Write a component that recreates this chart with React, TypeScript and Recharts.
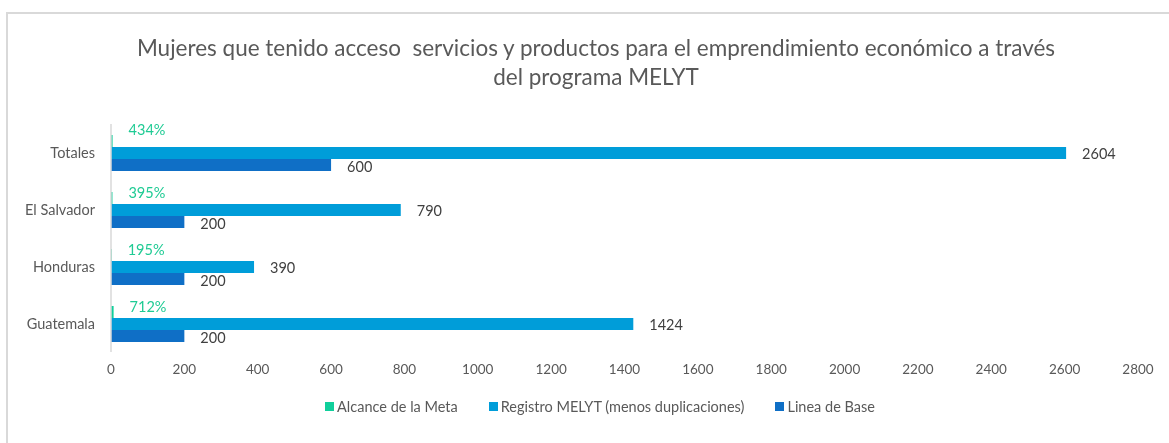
import React from 'react'
import { BarChart, Bar, XAxis, YAxis, Legend } from 'recharts'

const titleLines = [
    'Mujeres que tenido acceso  servicios y productos para el emprendimiento económico a través',
    'del programa MELYT',
]

const paises = ['Totales', 'El Salvador', 'Honduras', 'Guatemala']
const alcanceMeta = [4.34, 3.95, 1.95, 7.12]
const registroMelyt = [2604, 790, 390, 1424]
const lineaBase = [600, 200, 200, 200]
const xTicks = [0, 200, 400, 600, 800, 1000, 1200, 1400, 1600, 1800, 2000, 2200, 2400, 2600, 2800]

const series = [
    { key: 'alcance', name: 'Alcance de la Meta', color: '#10CF9B' },
    { key: 'registro', name: 'Registro MELYT (menos duplicaciones)', color: '#009DD9' },
    { key: 'base', name: 'Linea de Base', color: '#0F6FC6' },
]

const chartData = paises.map((name, i) => ({
    name,
    alcance: alcanceMeta[i],
    registro: registroMelyt[i],
    base: lineaBase[i],
}))

const FONT = 'Lato, "Open Sans", sans-serif'

// label to the right of the bar end, Excel-ish offsets
function makeLabel(color: string, fmt: (v: number) => string, dyFor: (i: number) => number) {
    return (props: any) => {
        const { x, y, width, height, value, index } = props
        return (
            <text
                x={x + width + 16}
                y={y + height / 2 + dyFor(index)}
                fill={color}
                fontSize={14.5}
                fontFamily={FONT}
                textAnchor="start"
                dominantBaseline="central"
            >
                {fmt(value)}
            </text>
        )
    }
}

function LegendContent() {
    return (
        <div style={{ display: 'flex', justifyContent: 'center', gap: 31, fontFamily: FONT, fontSize: 14.5, color: '#595959' }}>
            {series.map(s => (
                <div key={s.key} style={{ display: 'flex', alignItems: 'center', gap: 3 }}>
                    <span style={{ width: 9, height: 9, background: s.color, display: 'inline-block' }} />
                    <span>{s.name}</span>
                </div>
            ))}
        </div>
    )
}

export default function App() {
    return (
        <div style={{ fontFamily: FONT }}>
            <div style={{ position: 'fixed', left: 6, top: 12, width: 2000, height: 1000, borderTop: '2px solid #D9D9D9', borderLeft: '2px solid #D9D9D9' }} />
            <div style={{ position: 'fixed', left: 0, top: 0, width: 1169, height: 443 }}>
                <div style={{ position: 'absolute', top: 33, left: 0, width: 1192, textAlign: 'center', fontSize: 22.5, lineHeight: '29px', color: '#595959', whiteSpace: 'pre' }}>
                    {titleLines[0]}
                    <br />
                    {titleLines[1]}
                </div>
                <BarChart
                    width={1169}
                    height={443}
                    data={chartData}
                    layout="vertical"
                    margin={{ top: 124, right: 31, bottom: 61, left: 0 }}
                    barSize={12}
                    barGap={0}
                >
                    <XAxis
                        type="number"
                        domain={[0, 2800]}
                        ticks={xTicks}
                        interval={0}
                        axisLine={false}
                        tickLine={false}
                        tickSize={0}
                        tickMargin={12}
                        height={30}
                        tick={{ fontSize: 13.5, fill: '#595959', fontFamily: FONT }}
                    />
                    <YAxis
                        type="category"
                        dataKey="name"
                        width={111}
                        axisLine={{ stroke: '#D9D9D9', strokeWidth: 1.5 }}
                        tickLine={false}
                        tickSize={0}
                        tickMargin={16}
                        tick={{ fontSize: 14.5, fill: '#595959', fontFamily: FONT }}
                    />
                    <Legend
                        layout="horizontal"
                        verticalAlign="middle"
                        align="center"
                        content={<LegendContent />}
                        wrapperStyle={{ top: 398, left: 0, width: 1200 }}
                    />
                    <Bar
                        dataKey="alcance"
                        name={series[0].name}
                        fill={series[0].color}
                        isAnimationActive={false}
                        label={makeLabel('#1FCB94', v => `${Math.round(v * 100)}%`, i => (i === 0 ? -12 : -6))}
                    />
                    <Bar
                        dataKey="registro"
                        name={series[1].name}
                        fill={series[1].color}
                        isAnimationActive={false}
                        label={makeLabel('#404040', v => `${v}`, () => 0)}
                    />
                    <Bar
                        dataKey="base"
                        name={series[2].name}
                        fill={series[2].color}
                        isAnimationActive={false}
                        label={makeLabel('#404040', v => `${v}`, () => 1)}
                    />
                </BarChart>
            </div>
        </div>
    )
}
